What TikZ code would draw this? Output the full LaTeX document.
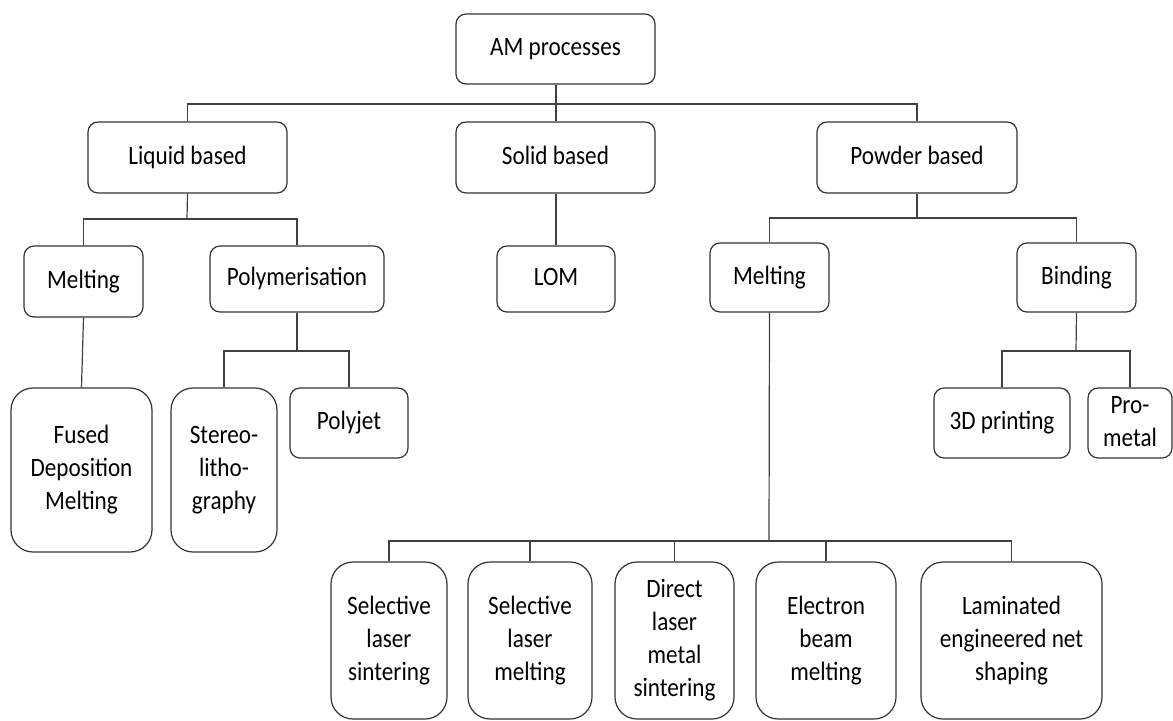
\documentclass[tikz,border=0pt]{standalone}
\usepackage{fontspec}
\setmainfont{Carlito}
\usepackage{graphicx}
\newcommand{\sqz}[1]{\scalebox{0.875}[1]{\begin{tabular}{@{}c@{}}#1\end{tabular}}}

\begin{document}
\begin{tikzpicture}[x=0.5pt,y=-0.5pt,semithick]
  \tikzstyle{box}=[draw=black!80,rounded corners=5pt,inner sep=1pt,
                   font=\fontsize{13.25}{16.5}\selectfont]
  \tikzstyle{tallbox}=[box,rounded corners=11pt]
  \tikzstyle{link}=[draw=black!75]
  \useasboundingbox (0,0) rectangle (1173,720);

  % top levels
  \node[box,minimum width=99.5pt,minimum height=35pt]  (am)     at (555.5,49)    {\sqz{AM processes}};
  \node[box,minimum width=99.5pt,minimum height=35.5pt] (liquid) at (187.5,157.5) {\sqz{Liquid based}};
  \node[box,minimum width=99.5pt,minimum height=35.5pt] (solid)  at (555.5,157.5) {\sqz{Solid based}};
  \node[box,minimum width=100pt,minimum height=35.5pt]  (powder) at (917,157.5)   {\sqz{Powder based}};

  \node[box,minimum width=59.5pt,minimum height=35.5pt] (meltL) at (83.5,281.5)  {\sqz{Melting}};
  \node[box,minimum width=87pt,minimum height=33pt]     (poly)  at (297,279)     {\sqz{Polymerisation}};
  \node[box,minimum width=59pt,minimum height=33pt]     (lom)   at (556,279)     {\sqz{LOM}};
  \node[box,minimum width=59.5pt,minimum height=34.5pt] (meltP) at (769.5,277.5) {\sqz{Melting}};
  \node[box,minimum width=59.5pt,minimum height=34.5pt] (bind)  at (1076.5,277.5) {\sqz{Binding}};

  % leaves
  \node[tallbox,minimum width=70.5pt,minimum height=82pt] (fdm)    at (81.5,470) {\sqz{Fused\\Deposition\\Melting}};
  \node[tallbox,minimum width=53pt,minimum height=82pt]   (stereo) at (224,470)  {\sqz{Stereo-\\litho-\\graphy}};
  \node[box,minimum width=59pt,minimum height=35pt]       (polyjet)  at (349,423)  {\sqz{Polyjet}};
  \node[box,minimum width=68pt,minimum height=35pt]       (print3d)  at (1002,423) {\sqz{3D printing}};
  \node[box,minimum width=42pt,minimum height=35pt]       (prometal) at (1130,423) {\sqz{Pro-\\metal}};

  \node[tallbox,minimum width=58pt,minimum height=78.5pt]   (sls)  at (389,640.5)    {\sqz{Selective\\laser\\sintering}};
  \node[tallbox,minimum width=62pt,minimum height=78.5pt]   (slm)  at (530,640.5)    {\sqz{Selective\\laser\\melting}};
  \node[tallbox,minimum width=59.5pt,minimum height=78.5pt] (dlms) at (674.5,640.5)  {\sqz{Direct\\laser\\metal\\sintering}};
  \node[tallbox,minimum width=70pt,minimum height=78.5pt]   (ebm)  at (826,640.5)    {\sqz{Electron\\beam\\melting}};
  \node[tallbox,minimum width=90.5pt,minimum height=78.5pt] (lens) at (1011.5,640.5) {\sqz{Laminated\\engineered net\\shaping}};

  % junctions
  \coordinate (amj)  at (556,104);
  \coordinate (lj)   at (187,219);
  \coordinate (pj)   at (917,218);
  \coordinate (plj)  at (297,351);
  \coordinate (bj)   at (1076,351);
  \coordinate (mj)   at (769,541);

  % connectors
  \draw[link] (am.south -| amj) -- (solid.north -| amj);
  \draw[link] (liquid.north) |- (amj) -| (powder.north);
  \draw[link] (solid.south -| amj) -- (lom.north -| amj);
  \draw[link] (liquid.south) -- (lj);
  \draw[link] (meltL.north) |- (lj) -| (poly.north);
  \draw[link] (powder.south) -- (pj);
  \draw[link] (meltP.north) |- (pj) -| (bind.north);
  \draw[link] (meltL.south) -- (fdm.north);
  \draw[link] (poly.south) -- (plj);
  \draw[link] (stereo.north) |- (plj) -| (polyjet.north);
  \draw[link] (bind.south) -- (bj);
  \draw[link] (print3d.north) |- (bj) -| (prometal.north);
  \draw[link] (meltP.south) -- (mj);
  \foreach \leaf in {sls,slm,dlms,ebm,lens}
    \draw[link] (\leaf.north) |- (mj);

\end{tikzpicture}
\end{document}
